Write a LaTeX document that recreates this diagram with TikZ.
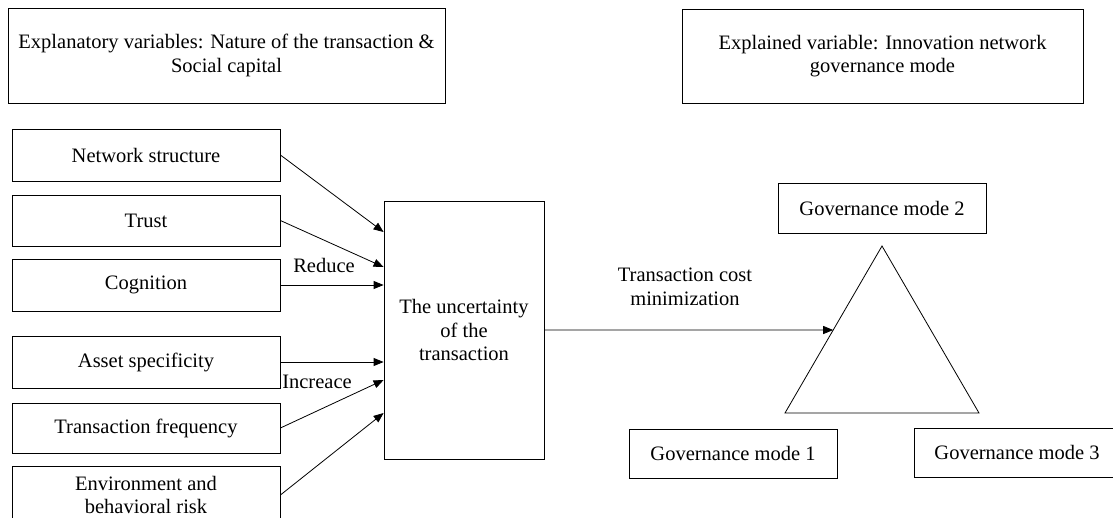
\documentclass[tikz,border=0pt]{standalone}
\usepackage{fontspec}
\setmainfont{Liberation Serif}
\usetikzlibrary{arrows.meta,calc}
\begin{document}
\begin{tikzpicture}[x=1pt,y=-1pt,
  font=\fontsize{20.5}{23.5}\selectfont,
  box/.style={draw, line width=0.8pt, inner sep=0pt, align=center},
  arr/.style={line width=0.8pt, -{Triangle[length=10pt,width=8pt]}},
  lbl/.style={inner sep=0pt, align=center}]
\clip (0,0) rectangle (1113,517);
\fill[white] (0,0) rectangle (1113,517);
% header boxes
\node[box, minimum width=437pt, minimum height=95pt] (expl) at (226.5,55.5)
  {Explanatory variables: Nature of the transaction \&\\Social capital};
\node[box, minimum width=401pt, minimum height=94pt] (expd) at (882.5,56)
  {Explained variable: Innovation network\\governance mode};
% left boxes
\node[box, minimum width=268pt, minimum height=52pt] (ns) at (146,155) {Network structure};
\node[box, minimum width=268pt, minimum height=51pt] (trust) at (146,220.5) {Trust};
\node[box, minimum width=268pt, minimum height=52pt] (cog) at (146,285) {Cognition};
\node[box, minimum width=268pt, minimum height=52pt] (asset) at (146,362) {Asset specificity};
\node[box, minimum width=268pt, minimum height=50pt] (tf) at (146,428) {Transaction frequency};
\node[box, minimum width=268pt, minimum height=58pt] (env) at (146,495) {Environment and\\behavioral risk};
% central box
\node[box, minimum width=160pt, minimum height=258pt] (unc) at (464,330) {The uncertainty\\of the\\transaction};
% arrows into central box
\draw[arr] (ns.east) -- ([yshift=98pt]unc.west);
\draw[arr] (trust.east) -- ([yshift=63pt]unc.west);
\draw[arr] (cog.east) -- ([yshift=45pt]unc.west);
\draw[arr] (asset.east) -- ([yshift=-32pt]unc.west);
\draw[arr] (tf.east) -- ([yshift=-50pt]unc.west);
\draw[arr] (env.east) -- ([yshift=-83pt]unc.west);
\node[lbl] (reduce) at (324,265) {Reduce};
\node[lbl] (incr) at (317,382) {Increace};
% triangle
\coordinate (tA) at (882,246);
\coordinate (tL) at (785,413);
\coordinate (tR) at (979,413);
\draw[line width=0.8pt] (tA) -- (tL) -- (tR) -- cycle;
\coordinate (tip) at ($(tA)!0.503!(tL)$);
\draw[arr] (unc.east) -- (tip);
\node[lbl] (tcm) at (685,287) {Transaction cost\\minimization};
% governance modes
\node[box, minimum width=208pt, minimum height=50pt] (gm2) at (882,208) {Governance mode 2};
\node[box, minimum width=208pt, minimum height=49pt] (gm1) at (733,453.5) {Governance mode 1};
\node[box, minimum width=206pt, minimum height=49pt] (gm3) at (1017,452.5) {Governance mode 3};
\end{tikzpicture}
\end{document}
